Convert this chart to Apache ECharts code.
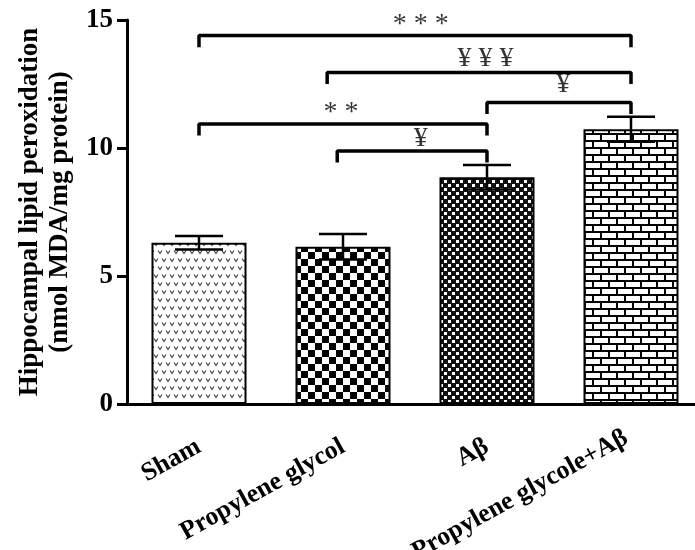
<!DOCTYPE html>
<html>
<head>
<meta charset="utf-8">
<script src="https://cdn.jsdelivr.net/npm/echarts@6/dist/echarts.min.js"></script>
<style>
html,body{margin:0;padding:0;background:#fff;}
#chart{width:695px;height:550px;}
</style>
</head>
<body>
<div id="chart"></div>
<script>
// ---- data ----
var categories = ['Sham', 'Propylene glycol', 'A\u03B2', 'Propylene glycole+A\u03B2'];
var means = [6.30, 6.14, 8.86, 10.73];
var sems = [0.26, 0.50, 0.48, 0.49];
var yTicks = [0, 5, 10, 15];
// significance comparisons (category index from/to, bracket height, label)
var compFrom   = [0,    0.89, 2,    0,     0.96];
var compTo     = [3,    3,    3,    2,     2];
var compHeight = [14.39, 12.95, 11.78, 10.94, 9.88];
var compLabel  = ['* * *', '\u00A5 \u00A5 \u00A5', '\u00A5', '* *', '\u00A5'];

// ---- patterns ----
function makeTile(w, h, draw) {
  var c = document.createElement('canvas');
  c.width = w; c.height = h;
  var ctx = c.getContext('2d');
  draw(ctx, w, h);
  return c;
}
var patSham = makeTile(8, 16, function (ctx, w, h) {
  ctx.fillStyle = '#fff'; ctx.fillRect(0, 0, w, h);
  ctx.strokeStyle = '#444'; ctx.lineWidth = 1.2;
  function v(x, y) {
    ctx.beginPath();
    ctx.moveTo(x - 2, y - 1.5); ctx.lineTo(x, y + 1.5); ctx.lineTo(x + 2, y - 1.5);
    ctx.stroke();
  }
  v(4, 4); v(0, 12); v(8, 12);
});
var patPG = makeTile(14, 14, function (ctx, w, h) {
  ctx.fillStyle = '#fff'; ctx.fillRect(0, 0, w, h);
  ctx.fillStyle = '#000'; ctx.fillRect(0, 0, 7, 7); ctx.fillRect(7, 7, 7, 7);
});
var patAb = makeTile(8, 8, function (ctx, w, h) {
  ctx.fillStyle = '#111'; ctx.fillRect(0, 0, w, h);
  ctx.fillStyle = '#fff'; ctx.fillRect(0, 0, 3, 3); ctx.fillRect(4, 4, 3, 3);
});
var patBrick = makeTile(16, 14, function (ctx, w, h) {
  ctx.fillStyle = '#000'; ctx.fillRect(0, 0, w, h);
  ctx.fillStyle = '#fff';
  ctx.fillRect(2, 2, 14, 5);
  ctx.fillRect(0, 9, 8, 5); ctx.fillRect(10, 9, 6, 5);
});
var patterns = [patSham, patPG, patAb, patBrick];

var FONT = 'Liberation Serif';

var barData = means.map(function (m, i) {
  return { value: m, itemStyle: { color: { image: patterns[i], repeat: 'repeat' } } };
});
var errData = means.map(function (m, i) { return [i, m - sems[i], m + sems[i]]; });

var series = [{
  type: 'bar',
  data: barData,
  barWidth: 95,
  itemStyle: { borderColor: '#000', borderWidth: 2 },
  z: 2
}, {
  type: 'custom',
  data: errData,
  z: 5,
  renderItem: function (params, api) {
    var x = api.value(0);
    var lo = api.coord([x, api.value(1)]);
    var hi = api.coord([x, api.value(2)]);
    var hw = 24;
    var st = { stroke: '#000', lineWidth: 2.5 };
    return { type: 'group', children: [
      { type: 'line', shape: { x1: hi[0], y1: hi[1], x2: lo[0], y2: lo[1] }, style: st },
      { type: 'line', shape: { x1: hi[0] - hw, y1: hi[1], x2: hi[0] + hw, y2: hi[1] }, style: st },
      { type: 'line', shape: { x1: lo[0] - hw, y1: lo[1], x2: lo[0] + hw, y2: lo[1] }, style: st }
    ]};
  }
}];

var drop = 0.45;
var textData = [];
var textOffsets = [[1.54, 14.82], [1.99, 13.49], [2.53, 12.46], [0.986, 11.39], [1.54, 10.35]];
compFrom.forEach(function (f, k) {
  var t = compTo[k], hgt = compHeight[k];
  series.push({
    type: 'line', xAxisIndex: 1, symbol: 'none', silent: true, z: 6,
    lineStyle: { color: '#000', width: 3.5 },
    data: [[f, hgt - drop], [f, hgt], [t, hgt], [t, hgt - drop]]
  });
  textData.push({ value: textOffsets[k], name: compLabel[k] });
});
series.push({
  type: 'scatter', xAxisIndex: 1, symbolSize: 0, silent: true, z: 7,
  data: textData,
  label: {
    show: true, position: 'inside', formatter: function (p) { return p.name; },
    color: '#000', fontFamily: FONT, fontSize: 28, fontWeight: 'normal'
  }
});

var chart = echarts.init(document.getElementById('chart'));
chart.setOption({
  animation: false,
  backgroundColor: '#fff',
  grid: { left: 127, right: -8, top: 20, bottom: 146, containLabel: false, outerBoundsMode: 'none' },
  xAxis: [{
    type: 'category',
    data: categories,
    axisLine: { onZero: false, lineStyle: { color: '#000', width: 3 } },
    axisTick: { alignWithLabel: true, length: 10, lineStyle: { color: '#000', width: 3 } },
    axisLabel: {
      rotate: 29, margin: 41, color: '#000', fontFamily: FONT, fontWeight: 'bold', fontSize: 26,
      lineHeight: 28, interval: 0,
      formatter: function (v, i) {
        return i === categories.length - 1 ? v + '\n{s| }' : v;
      },
      rich: { s: { lineHeight: 20, fontSize: 10 } }
    }
  }, {
    type: 'value', min: -0.5, max: 3.5, show: false
  }],
  yAxis: {
    type: 'value', min: yTicks[0], max: yTicks[yTicks.length - 1], interval: yTicks[1] - yTicks[0],
    name: 'Hippocampal lipid peroxidation\n(nmol MDA/mg protein)',
    nameLocation: 'middle', nameGap: 51,
    nameTextStyle: { color: '#000', fontFamily: FONT, fontWeight: 'bold', fontSize: 27, lineHeight: 30 },
    axisLine: { show: true, onZero: false, lineStyle: { color: '#000', width: 3 } },
    axisTick: { show: true, length: 10, lineStyle: { color: '#000', width: 3 } },
    axisLabel: { margin: 14, color: '#000', fontFamily: FONT, fontWeight: 'bold', fontSize: 27 },
    splitLine: { show: false }
  },
  series: series
});
</script>
</body>
</html>
